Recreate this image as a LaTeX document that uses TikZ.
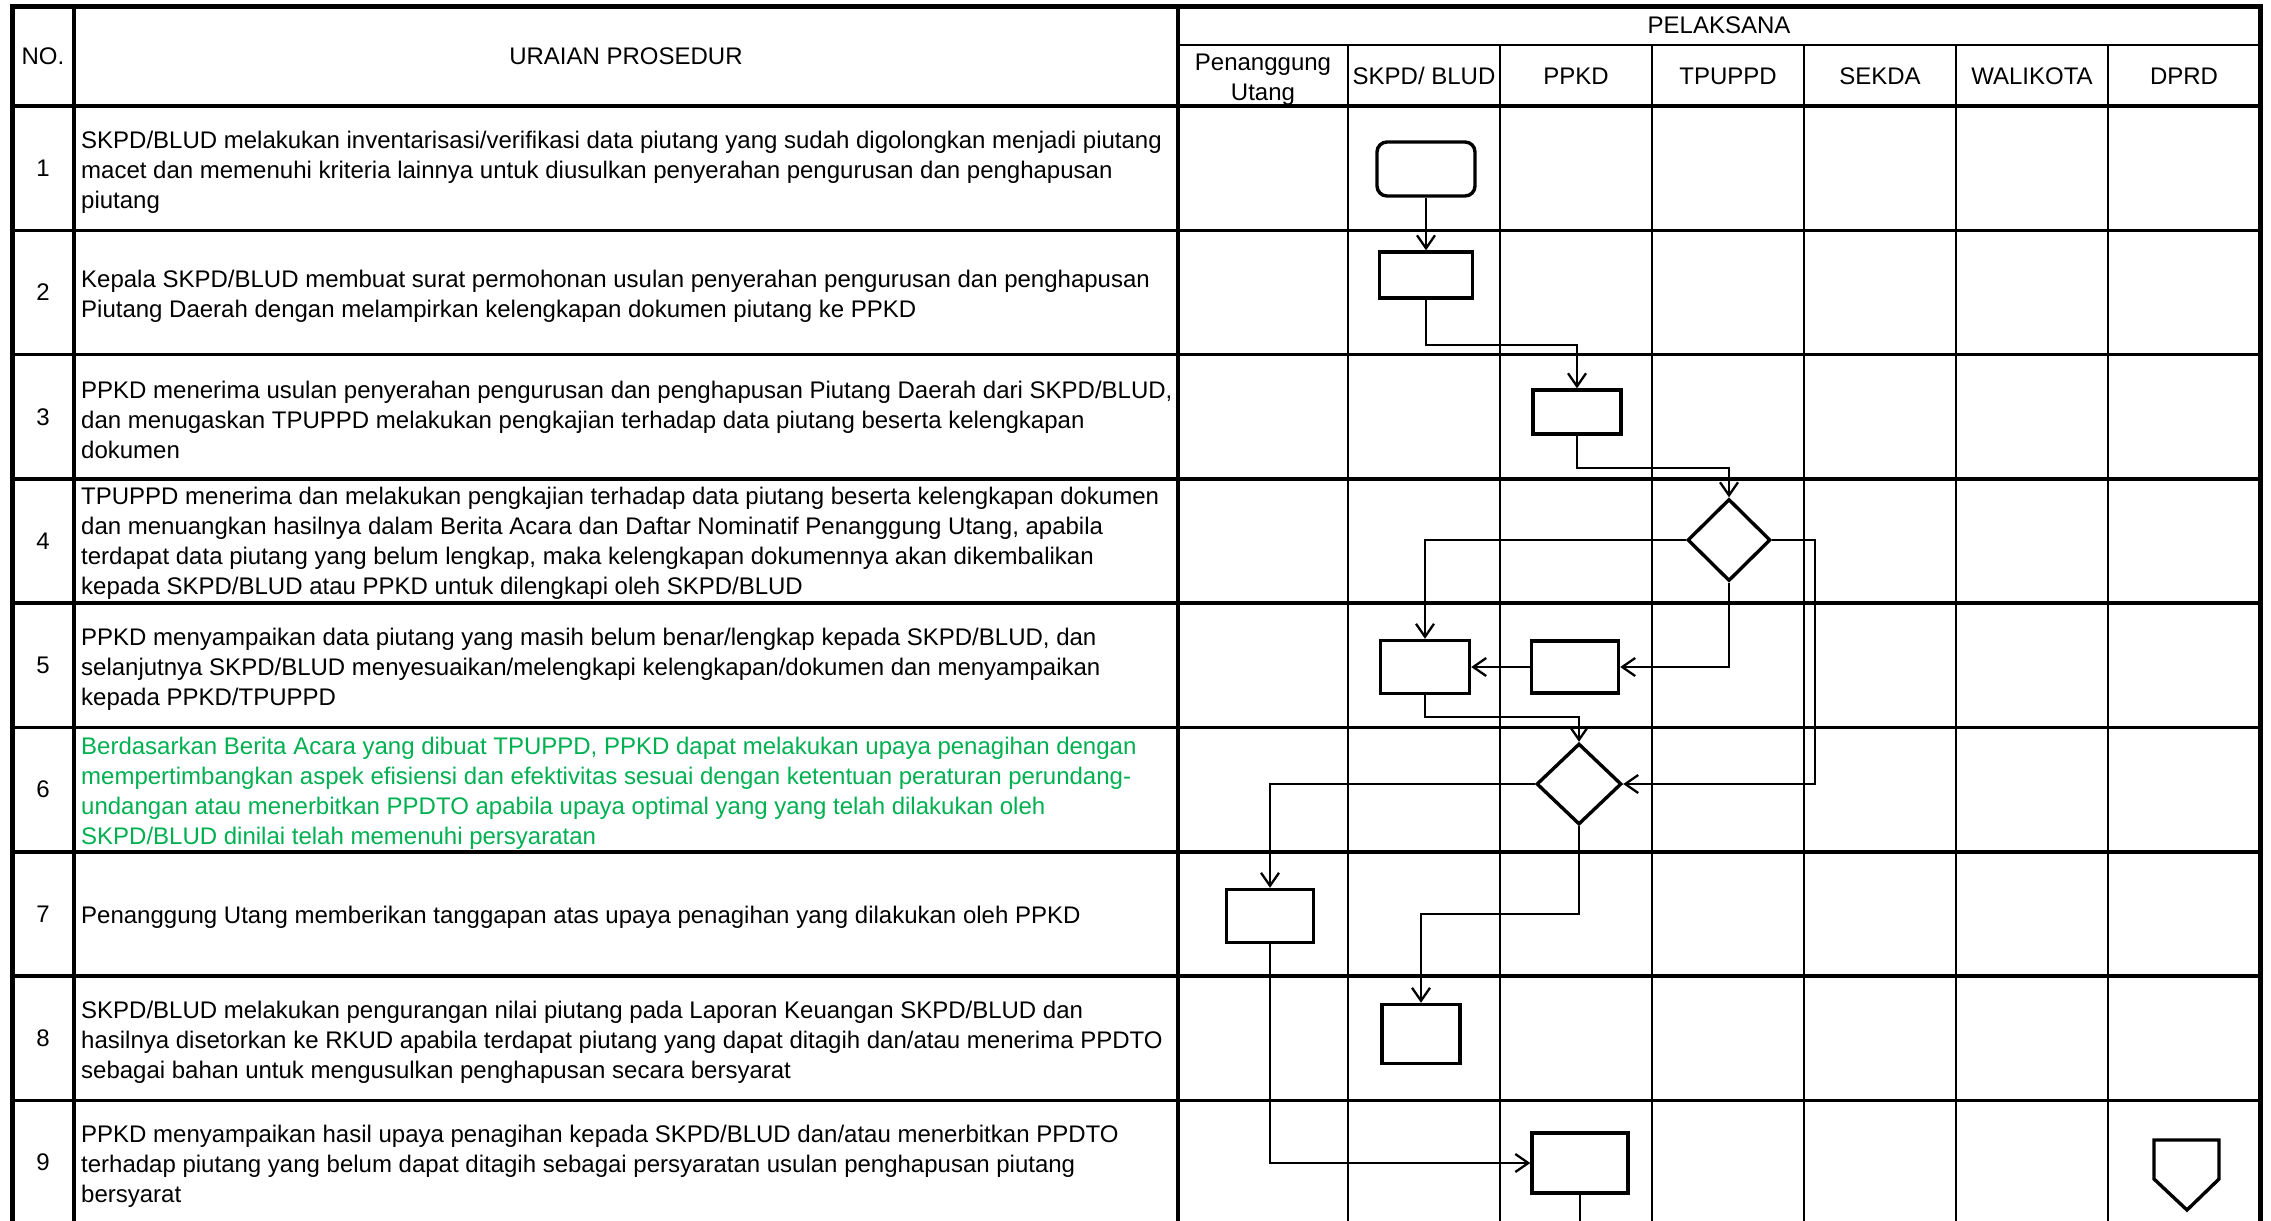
\documentclass[tikz,border=0pt]{standalone}
\usepackage{fontspec}
\setmainfont{Liberation Sans}
\usetikzlibrary{shapes.geometric,arrows.meta,positioning}
\definecolor{hijau}{RGB}{0,176,80}

\begin{document}
\begin{tikzpicture}[x=1pt,y=-1pt,
        garis/.style={line width=2.7pt},
        teks/.style={font=\fontsize{24}{30}\selectfont, inner sep=0pt},
        uraian/.style={teks, align=left, anchor=west},
        kepala/.style={teks, align=center},
        proses/.style={draw, fill=white, line width=3.4pt, inner sep=0pt},
        mulai/.style={proses, rounded corners=10pt},
        keputusan/.style={proses, diamond},
        panah/.style={line width=2.3pt, -{Straight Barb[length=13pt,width=18pt]}}]

        \useasboundingbox (0,0) rectangle (2271,1221);
        \clip (0,0) rectangle (2271,1221);

        %-- Garis tabel: baris (tebal), kolom pelaksana (tipis) --
        \draw[line width=3.5pt] (11,106) -- (2260,106);
        \foreach \i in {1,...,8}
            \draw[line width=3.5pt] (11,{106+124.3*\i}) -- (2260,{106+124.3*\i});
        \draw[garis] (1178,45) -- (2260,45);
        \foreach \x in {1348,1500,1652,1804,1956,2108}
            \draw[garis] (\x,45) -- (\x,1240);
        \draw[line width=4pt] (74,6) -- (74,1240) (1178,6) -- (1178,1240);
        \draw[line width=5pt] (12,1240) -- (12,6) -- (2260,6) -- (2260,1240);

        %-- Kepala tabel --
        \node[kepala] (hNo) at (43,56) {NO.};
        \node[kepala] (hUraian) at (626,56) {URAIAN PROSEDUR};
        \node[kepala] (hPelaksana) at (1719,25) {PELAKSANA};
        \node[kepala] (hPU) at (1263,80) {Penanggung\\Utang};
        \foreach \x/\nama/\id in {1424/{SKPD/ BLUD}/skpd, 1576/PPKD/ppkd,
                1728/TPUPPD/tpuppd, 1880/SEKDA/sekda, 2032/WALIKOTA/walikota,
                2184/DPRD/dprd}
            \node[kepala] (h\id) at (\x,76) {\nama};

        %-- Nomor baris --
        \foreach \i in {1,...,9}
            \node[teks] (no\i) at (43,{106+124.3*(\i-0.5)}) {\i};

        %-- Uraian prosedur --
        \node[uraian] (u1) at (81,172) {SKPD/BLUD melakukan inventarisasi/verifikasi data piutang yang sudah digolongkan menjadi piutang\\macet dan memenuhi kriteria lainnya untuk diusulkan penyerahan pengurusan dan penghapusan\\piutang};
        \node[uraian] (u2) at (81,296) {Kepala SKPD/BLUD membuat surat permohonan usulan penyerahan pengurusan dan penghapusan\\Piutang Daerah dengan melampirkan kelengkapan dokumen piutang ke PPKD};
        \node[uraian] (u3) at (81,420) {PPKD menerima usulan penyerahan pengurusan dan penghapusan Piutang Daerah dari SKPD/BLUD,\\dan menugaskan TPUPPD melakukan pengkajian terhadap data piutang beserta kelengkapan\\dokumen};
        \node[uraian] (u4) at (81,543) {TPUPPD menerima dan melakukan pengkajian terhadap data piutang beserta kelengkapan dokumen\\dan menuangkan hasilnya dalam Berita Acara dan Daftar Nominatif Penanggung Utang, apabila\\terdapat data piutang yang belum lengkap, maka kelengkapan dokumennya akan dikembalikan\\kepada SKPD/BLUD atau PPKD untuk dilengkapi oleh SKPD/BLUD};
        \node[uraian] (u5) at (81,669) {PPKD menyampaikan data piutang yang masih belum benar/lengkap kepada SKPD/BLUD, dan\\selanjutnya SKPD/BLUD menyesuaikan/melengkapi kelengkapan/dokumen dan menyampaikan\\kepada PPKD/TPUPPD};
        \node[uraian, text=hijau] (u6) at (81,793) {Berdasarkan Berita Acara yang dibuat TPUPPD, PPKD dapat melakukan upaya penagihan dengan\\mempertimbangkan aspek efisiensi dan efektivitas sesuai dengan ketentuan peraturan perundang-\\undangan atau menerbitkan PPDTO apabila upaya optimal yang yang telah dilakukan oleh\\SKPD/BLUD dinilai telah memenuhi persyaratan};
        \node[uraian] (u7) at (81,917) {Penanggung Utang memberikan tanggapan atas upaya penagihan yang dilakukan oleh PPKD};
        \node[uraian] (u8) at (81,1042) {SKPD/BLUD melakukan pengurangan nilai piutang pada Laporan Keuangan SKPD/BLUD dan\\hasilnya disetorkan ke RKUD apabila terdapat piutang yang dapat ditagih dan/atau menerima PPDTO\\sebagai bahan untuk mengusulkan penghapusan secara bersyarat};
        \node[uraian] (u9) at (81,1166) {PPKD menyampaikan hasil upaya penagihan kepada SKPD/BLUD dan/atau menerbitkan PPDTO\\terhadap piutang yang belum dapat ditagih sebagai persyaratan usulan penghapusan piutang\\bersyarat};

        %-- Simbol alir --
        \node[mulai, minimum width=98pt, minimum height=54pt] (s1) at (1426,169) {};
        \node[proses, minimum width=93pt, minimum height=46pt] (p2) at (1426,275) {};
        \node[proses, minimum width=88pt, minimum height=44pt] (p3) at (1577,412) {};
        \node[keputusan, minimum width=83pt, minimum height=82pt] (d4) at (1729,540) {};
        \node[proses, minimum width=89pt, minimum height=53pt] (p5a) at (1425,667) {};
        \node[proses, minimum width=87pt, minimum height=52pt] (p5b) at (1575,667) {};
        \node[keputusan, minimum width=85pt, minimum height=81pt] (d6) at (1579,784) {};
        \node[proses, minimum width=87pt, minimum height=53pt] (p7) at (1270,916) {};
        \node[proses, minimum width=78pt, minimum height=59pt] (p8) at (1421,1034) {};
        \node[proses, minimum width=96pt, minimum height=60pt] (p9) at (1580,1163) {};

        %-- Penghubung halaman (DPRD) --
        \draw[line width=3.4pt, fill=white]
        (2154,1140) -- (2219,1140) -- (2219,1179) -- (2187,1210) -- (2154,1179) -- cycle;

        %-- Garis alir --
        \draw[panah] (s1.south) -- (p2.north);
        \draw[panah] (p2.south) -- ++(0,45) -| (p3.north);
        \draw[panah] (p3.south) -- ++(0,32) -| (d4.north);
        \draw[panah] (d4.west) -| (p5a.north);
        \draw[panah] (d4.south) |- (p5b.east);
        \draw[panah] (p5b.west) -- (p5a.east);
        \draw[panah] (d4.east) -- ++(43,0) |- (d6.east);
        \draw[panah] (p5a.south) -- ++(0,22) -| (d6.north);
        \draw[panah] (d6.west) -| (p7.north);
        \draw[panah] (d6.south) -- ++(0,88) -| (p8.north);
        \draw[panah] (p7.south) |- (p9.west);
        \draw[line width=2.3pt] (p9.south) -- ++(0,40);

    \end{tikzpicture}
\end{document}
